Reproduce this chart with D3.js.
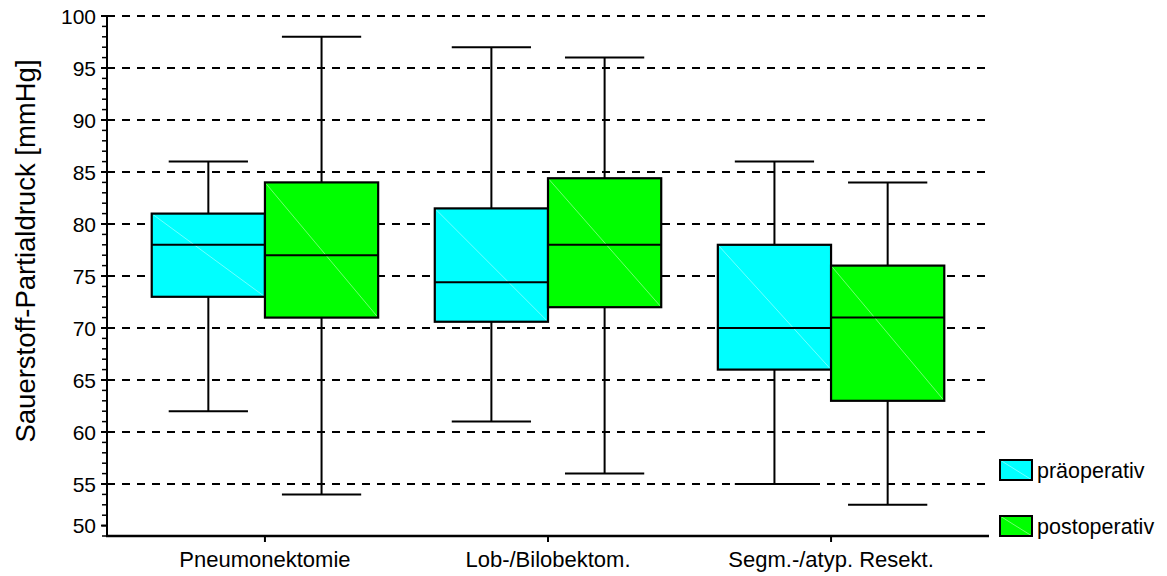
<!DOCTYPE html>
<html><head><meta charset="utf-8">
<script src="https://cdn.jsdelivr.net/npm/d3@7"></script>
<style>html,body{margin:0;padding:0;background:#fff;}svg{display:block;}text{font-family:Arial,"Liberation Sans",sans-serif;fill:#000;}</style>
</head><body><svg id="c" width="1167" height="576"></svg>
<script>
const categories = ["Pneumonektomie", "Lob-/Bilobektom.", "Segm.-/atyp. Resekt."];
const seriesNames = ["präoperativ", "postoperativ"];
const seriesColors = ["#00FFFF", "#00FF00"];
// five-number summaries per category: [min, q1, median, q3, max]
const praeoperativ = [
  [62, 73, 78, 81, 86],
  [61, 70.6, 74.4, 81.5, 97],
  [55, 66, 70, 78, 86]
];
const postoperativ = [
  [54, 71, 77, 84, 98],
  [56, 72, 78, 84.4, 96],
  [53, 63, 71, 76, 84]
];
const gridValues = [55, 60, 65, 70, 75, 80, 85, 90, 95, 100];
const yTickValues = [51, 55, 60, 65, 70, 75, 80, 85, 90, 95, 100];
const yTickLabels = ["50", "55", "60", "65", "70", "75", "80", "85", "90", "95", "100"];
const yTitle = "Sauerstoff-Partialdruck [mmHg]";

const svg = d3.select("#c");
const L = 107, R = 989, T = 16, B = 536;
const y = d3.scaleLinear().domain([50, 100]).range([B, T]);
const x0 = d3.scaleBand().domain(categories).range([L, R]).paddingInner(0).paddingOuter(0.058);
const step = x0.bandwidth();
const x1 = d3.scaleBand().domain(seriesNames).range([step * 0.1, step * 0.9]).padding(0);
const bw = x1.bandwidth();

// grid
svg.append("g").selectAll("line").data(gridValues).join("line")
  .attr("x1", L).attr("x2", R).attr("y1", d => y(d)).attr("y2", d => y(d))
  .attr("stroke", "#000").attr("stroke-width", 2).attr("stroke-dasharray", "8,7");

// boxes
const series = [praeoperativ, postoperativ];
const g = svg.append("g");
categories.forEach((cat, ci) => {
  seriesNames.forEach((s, si) => {
    const [mn, q1, med, q3, mx] = series[si][ci];
    const xl = x0(cat) + x1(s);
    const xc = xl + bw / 2;
    const cw = bw * 0.7;
    g.append("line").attr("x1", xc).attr("x2", xc).attr("y1", y(mx)).attr("y2", y(mn))
      .attr("stroke", "#000").attr("stroke-width", 2);
    [mn, mx].forEach(v => g.append("line").attr("x1", xc - cw / 2).attr("x2", xc + cw / 2)
      .attr("y1", y(v)).attr("y2", y(v)).attr("stroke", "#000").attr("stroke-width", 2));
    g.append("rect").attr("x", xl).attr("y", y(q3)).attr("width", bw).attr("height", y(q1) - y(q3))
      .attr("fill", seriesColors[si]).attr("stroke", "none");
    g.append("line").attr("x1", xl).attr("y1", y(q3)).attr("x2", xl + bw).attr("y2", y(q1))
      .attr("stroke", "#fff").attr("stroke-opacity", 0.55).attr("stroke-width", 0.8);
    g.append("rect").attr("x", xl).attr("y", y(q3)).attr("width", bw).attr("height", y(q1) - y(q3))
      .attr("fill", "none").attr("stroke", "#000").attr("stroke-width", 2.2);
    g.append("line").attr("x1", xl).attr("x2", xl + bw).attr("y1", y(med)).attr("y2", y(med))
      .attr("stroke", "#000").attr("stroke-width", 2);
  });
});

// y axis
const minor = d3.range(50, 101, 1);
const ya = svg.append("g");
ya.append("line").attr("x1", L).attr("x2", L).attr("y1", T).attr("y2", B + 1).attr("stroke", "#000").attr("stroke-width", 2);
ya.selectAll("line.m").data(minor).join("line").attr("class", "m")
  .attr("x1", L - 5).attr("x2", L).attr("y1", d => y(d)).attr("y2", d => y(d))
  .attr("stroke", "#000").attr("stroke-width", 1.5);
ya.selectAll("line.M").data(yTickValues).join("line").attr("class", "M")
  .attr("x1", L - 6).attr("x2", L).attr("y1", d => y(d)).attr("y2", d => y(d))
  .attr("stroke", "#000").attr("stroke-width", 2);
ya.selectAll("text").data(yTickValues).join("text")
  .attr("x", 96).attr("y", d => y(d)).attr("dy", "0.36em").attr("text-anchor", "end")
  .attr("font-size", 21).text((d, i) => yTickLabels[i]);

// x axis
const xa = svg.append("g");
xa.append("line").attr("x1", L - 1).attr("x2", R).attr("y1", B).attr("y2", B).attr("stroke", "#000").attr("stroke-width", 2.5);
xa.selectAll("line.t").data(categories).join("line").attr("class", "t")
  .attr("x1", d => x0(d) + step / 2).attr("x2", d => x0(d) + step / 2)
  .attr("y1", B).attr("y2", B + 6).attr("stroke", "#000").attr("stroke-width", 2);
xa.selectAll("text").data(categories).join("text")
  .attr("x", d => x0(d) + step / 2).attr("y", 567).attr("text-anchor", "middle")
  .attr("font-size", 22).text(d => d);

// y title
svg.append("text").attr("transform", `translate(35,251) rotate(-90)`).attr("text-anchor", "middle")
  .attr("font-size", 27.5).text(yTitle);

// legend
const lg = svg.append("g");
const legendY = [460, 516];
seriesNames.forEach((s, i) => {
  lg.append("rect").attr("x", 1000).attr("y", legendY[i]).attr("width", 32).attr("height", 20)
    .attr("fill", seriesColors[i]);
  lg.append("line").attr("x1", 1000).attr("y1", legendY[i]).attr("x2", 1032).attr("y2", legendY[i] + 20)
    .attr("stroke", "#fff").attr("stroke-opacity", 0.55).attr("stroke-width", 0.8);
  lg.append("rect").attr("x", 1000).attr("y", legendY[i]).attr("width", 32).attr("height", 20)
    .attr("fill", "none").attr("stroke", "#000").attr("stroke-width", 2);
  lg.append("text").attr("x", 1037).attr("y", legendY[i] + 10).attr("dy", "0.36em")
    .attr("font-size", 21.5).text(s);
});
</script></body></html>
